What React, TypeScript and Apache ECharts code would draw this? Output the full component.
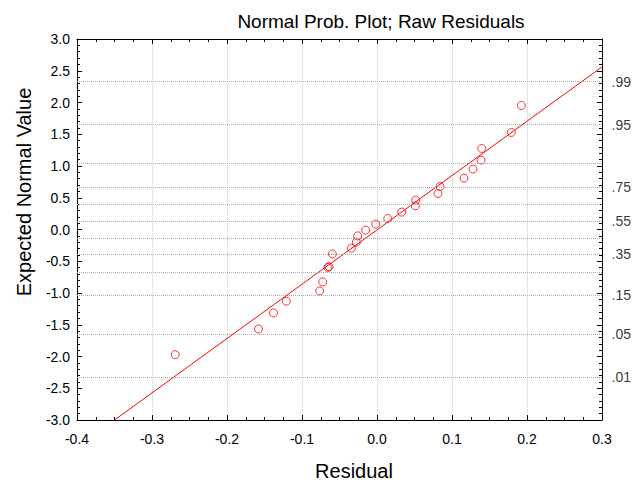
import React, { useEffect, useRef } from "react";
import * as echarts from "echarts";

const residuals = [-0.269, -0.158, -0.138, -0.121, -0.0764, -0.0724, -0.0655, -0.064, -0.0595, -0.0341, -0.0275, -0.0257, -0.0151, -0.0017, 0.0143, 0.0329, 0.0512, 0.0516, 0.0813, 0.084, 0.116, 0.128, 0.1387, 0.1396, 0.1792, 0.1925];
const expectedNormal = [-1.971, -1.566, -1.314, -1.129, -0.967, -0.825, -0.598, -0.585, -0.384, -0.294, -0.199, -0.1, -0.01, 0.084, 0.173, 0.273, 0.373, 0.463, 0.567, 0.677, 0.809, 0.951, 1.093, 1.276, 1.528, 1.954];

const fitLineX = [-0.35, 0.3];
const fitLineY = [-3.0, 2.56];

const probLabels = [".99", ".95", ".75", ".55", ".35", ".15", ".05", ".01"];
const probLabelZ = [2.326, 1.645, 0.674, 0.126, -0.385, -1.036, -1.645, -2.326];
const probGridZ = [2.326, 1.645, 1.036, 0.674, 0.385, 0.126, -0.126, -0.385, -0.674, -1.036, -1.645, -2.326];

const FONT = "Liberation Sans, Arial, sans-serif";

export default function App() {
  const ref = useRef<HTMLDivElement>(null);
  useEffect(() => {
    if (!ref.current) return;
    const chart = echarts.init(ref.current, null, { renderer: "svg" });
    const axisLine = { show: true, onZero: false, lineStyle: { color: "#000", width: 1 } };
    const xBase = {
      type: "value",
      min: -0.4,
      max: 0.3,
      interval: 0.1,
      axisLine,
      axisTick: { show: true, inside: true, length: 5, lineStyle: { color: "#000" } },
      minorTick: { show: true, splitNumber: 4, length: 3, lineStyle: { color: "#000" } },
    };
    const yBase = {
      type: "value",
      min: -3,
      max: 3,
      interval: 0.5,
      axisLine,
      axisTick: { show: true, inside: true, length: 5, lineStyle: { color: "#000" } },
      minorTick: { show: true, splitNumber: 5, length: 3, lineStyle: { color: "#000" } },
    };
    chart.setOption({
      animation: false,
      backgroundColor: "#fff",
      textStyle: { fontFamily: FONT },
      grid: { left: 77, top: 39, right: 38, bottom: 62, containLabel: false },
      xAxis: [
        {
          ...xBase,
          position: "bottom",
          axisLabel: {
            show: true,
            margin: 12,
            fontSize: 14,
            color: "#000",
            fontFamily: FONT,
            formatter: (v: number) => v.toFixed(1),
          },
          splitLine: { show: true, lineStyle: { color: "#cccccc", type: "dotted", width: 1 } },
        },
        {
          ...xBase,
          position: "top",
          axisLabel: { show: false },
          splitLine: { show: false },
        },
      ],
      yAxis: [
        {
          ...yBase,
          position: "left",
          axisLabel: {
            show: true,
            margin: 7,
            fontSize: 14,
            color: "#000",
            fontFamily: FONT,
            formatter: (v: number) => v.toFixed(1),
          },
          splitLine: { show: false },
        },
        {
          ...yBase,
          position: "right",
          axisLabel: { show: false },
          splitLine: { show: false },
        },
      ],
      graphic: [
        {
          type: "text",
          x: 381,
          y: 21,
          style: {
            text: "Normal Prob. Plot; Raw Residuals",
            fontSize: 19,
            fontFamily: FONT,
            fill: "#000",
            align: "center",
            verticalAlign: "middle",
          },
        },
        {
          type: "text",
          x: 24,
          y: 192,
          rotation: Math.PI / 2,
          style: {
            text: "Expected Normal Value",
            fontSize: 20,
            fontFamily: FONT,
            fill: "#000",
            align: "center",
            verticalAlign: "middle",
          },
        },
        {
          type: "text",
          x: 354,
          y: 471,
          style: {
            text: "Residual",
            fontSize: 20,
            fontFamily: FONT,
            fill: "#000",
            align: "center",
            verticalAlign: "middle",
          },
        },
      ],
      series: [
        {
          type: "scatter",
          name: "probLabels",
          xAxisIndex: 0,
          yAxisIndex: 0,
          silent: true,
          symbolSize: 1,
          itemStyle: { color: "rgba(0,0,0,0)" },
          data: probLabelZ.map((z, i) => ({ value: [0.3, z], name: probLabels[i] })),
          label: {
            show: true,
            position: "right",
            distance: 9,
            fontSize: 14,
            fontFamily: FONT,
            color: "#000",
            formatter: (p: any) => p.name,
          },
          markLine: {
            silent: true,
            symbol: ["none", "none"],
            label: { show: false },
            lineStyle: { color: "#aaaaaa", type: "dotted", width: 1 },
            data: probGridZ.map((z) => ({ yAxis: z })),
          },
          z: 1,
        },
        {
          type: "line",
          xAxisIndex: 0,
          yAxisIndex: 0,
          data: fitLineX.map((x, i) => [x, fitLineY[i]]),
          showSymbol: false,
          symbol: "none",
          lineStyle: { color: "#ff0000", width: 1 },
          silent: true,
          z: 3,
        },
        {
          type: "scatter",
          xAxisIndex: 0,
          yAxisIndex: 0,
          data: residuals.map((x, i) => [x, expectedNormal[i]]),
          symbol: "circle",
          symbolSize: 8,
          itemStyle: { color: "rgba(0,0,0,0)", borderColor: "#ff0000", borderWidth: 1 },
          z: 4,
        },
      ],
    });
    return () => chart.dispose();
  }, []);
  return (
    <div
      ref={ref}
      style={{ position: "fixed", left: 0, top: 0, width: 640, height: 482 }}
    />
  );
}
